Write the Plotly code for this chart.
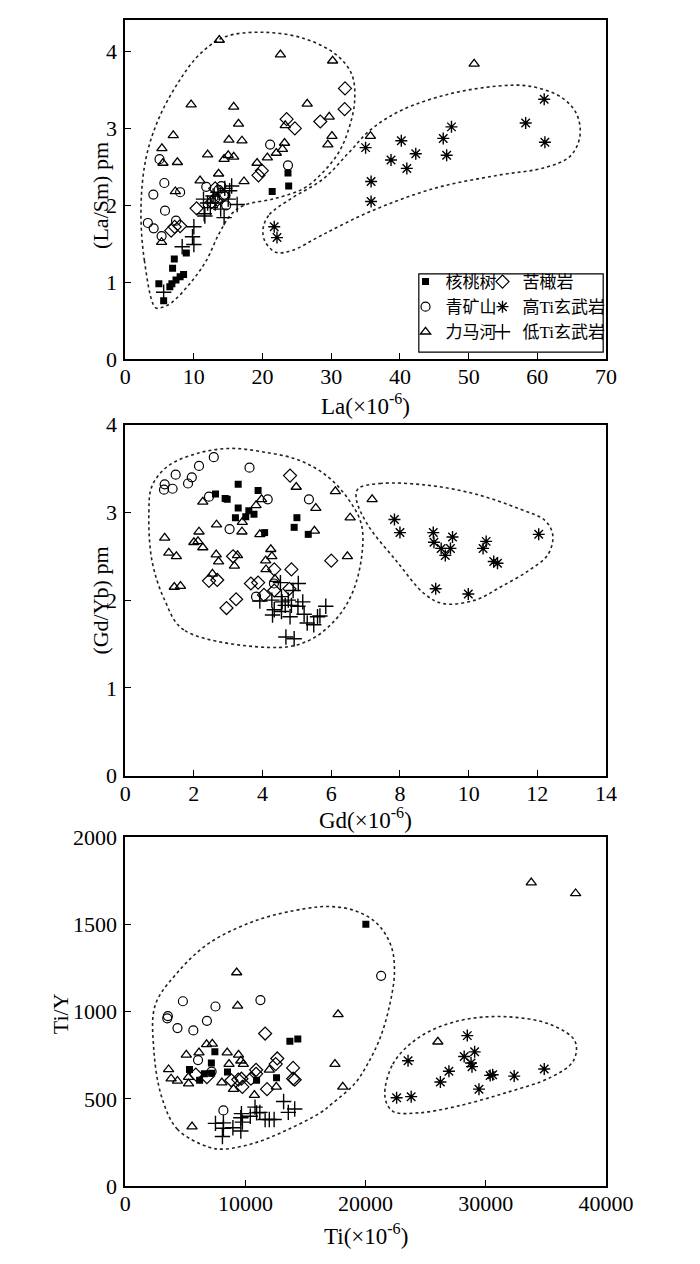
import plotly.graph_objects as go

# ---------------- Panel 1: La vs (La/Sm)pm ----------------
p1_hts_x = [23.7, 23.8, 21.4, 8.9, 7.15, 6.9, 4.9, 5.6, 6.5, 6.8, 7.4, 8.0, 8.5]
p1_hts_y = [2.42, 2.25, 2.18, 1.38, 1.30, 1.18, 0.98, 0.76, 0.94, 0.98, 1.03, 1.07, 1.10]
p1_qks_x = [5.0, 5.7, 4.1, 8.0, 5.8, 3.3, 4.15, 7.4, 5.3, 21.1, 23.7, 11.8, 14.0, 13.1, 14.7, 13.6]
p1_qks_y = [2.60, 2.29, 2.14, 2.17, 1.93, 1.77, 1.70, 1.80, 1.60, 2.79, 2.52, 2.24, 2.25, 2.09, 2.00, 2.20]
p1_lmh_x = [13.7, 22.6, 30.2, 9.6, 15.8, 16.5, 26.5, 29.7, 7.0, 15.1, 17.0, 30.1, 29.5, 5.35, 12.0, 15.0,
            14.4, 15.8, 5.5, 7.6, 23.3, 23.2, 20.7, 22.0, 22.9, 19.2, 13.6, 10.9, 17.3, 7.3, 5.3, 35.7, 50.8]
p1_lmh_y = [4.15, 3.96, 3.88, 3.31, 3.28, 3.06, 3.32, 3.15, 2.91, 2.85, 2.84, 2.90, 2.79, 2.74, 2.66, 2.65,
            2.60, 2.63, 2.55, 2.56, 3.04, 2.81, 2.62, 2.68, 2.73, 2.55, 2.41, 2.32, 2.31, 2.18, 1.52, 2.90, 3.84]
p1_kgy_x = [32.0, 31.95, 28.4, 23.5, 24.7, 19.9, 19.4, 10.4, 6.7, 7.2, 8.0, 13.4, 14.3, 13.1, 12.6]
p1_kgy_y = [3.52, 3.25, 3.09, 3.12, 3.00, 2.45, 2.39, 1.96, 1.67, 1.72, 1.73, 2.07, 2.13, 2.22, 2.04]
p1_hti_x = [21.7, 22.1, 35.0, 35.8, 35.8, 40.2, 38.7, 41.0, 42.3, 46.3, 47.5, 46.8, 58.3, 61.0, 61.1]
p1_hti_y = [1.72, 1.58, 2.75, 2.31, 2.05, 2.84, 2.59, 2.48, 2.67, 2.87, 3.02, 2.65, 3.07, 3.38, 2.82]
p1_lti_x = [10.0, 9.8, 10.0, 8.3, 5.6, 11.5, 11.4, 12.0, 13.1, 15.0, 15.5, 15.2, 16.3, 14.4, 13.5, 12.8,
            14.5, 13.9, 11.6, 12.4]
p1_lti_y = [1.72, 1.59, 1.49, 1.46, 0.87, 1.89, 2.08, 2.03, 2.03, 2.08, 2.25, 2.19, 2.01, 1.84, 2.17, 2.12,
            2.22, 1.95, 1.86, 1.97]
p1_env1_x = [4.4, 2.8, 2.3, 3.0, 4.8, 7.6, 10.8, 14.5, 20.1, 26.0, 30.7, 33.0, 33.4, 32.5, 31.1, 28.8,
             26.0, 21.9, 17.3, 15.4, 13.6, 11.8, 9.4, 6.7, 5.3, 4.4]
p1_env1_y = [0.67, 1.28, 1.96, 2.60, 3.11, 3.58, 3.96, 4.19, 4.25, 4.17, 3.96, 3.70, 3.35, 2.98, 2.69, 2.43,
             2.22, 2.09, 2.00, 1.88, 1.62, 1.28, 0.98, 0.73, 0.67, 0.67]
p1_env2_x = [20.1, 21.0, 24.2, 28.8, 32.5, 35.7, 40.3, 47.3, 54.2, 58.8, 63.4, 65.7, 66.2, 64.8, 61.1,
             54.2, 45.0, 35.7, 28.8, 24.2, 21.9, 20.3, 20.1]
p1_env2_y = [1.71, 1.88, 2.09, 2.34, 2.68, 2.98, 3.24, 3.45, 3.55, 3.55, 3.41, 3.19, 2.90, 2.64, 2.49,
             2.39, 2.22, 1.92, 1.62, 1.41, 1.39, 1.54, 1.71]

# ---------------- Panel 2: Gd vs (Gd/Yb)pm ----------------
p2_hts_x = [3.29, 2.63, 2.91, 2.97, 3.87, 3.29, 3.60, 3.51, 3.75, 3.21, 4.06, 4.92, 5.0, 5.33]
p2_hts_y = [3.32, 3.21, 3.16, 3.15, 3.25, 3.05, 3.02, 2.95, 2.98, 2.94, 2.77, 2.83, 2.94, 2.75]
p2_qks_x = [2.58, 2.15, 1.47, 1.94, 1.83, 1.15, 1.13, 1.38, 3.62, 2.44, 5.35, 4.15, 3.04, 4.33, 3.81]
p2_qks_y = [3.63, 3.53, 3.43, 3.40, 3.33, 3.32, 3.26, 3.27, 3.51, 3.18, 3.15, 3.15, 2.81, 2.19, 2.04]
p2_lmh_x = [4.98, 6.12, 6.55, 5.55, 5.51, 6.47, 7.19, 2.26, 3.97, 3.81, 3.41, 2.66, 3.40, 3.92, 2.15, 1.15,
            2.0, 2.12, 2.26, 1.27, 1.49, 2.65, 2.72, 3.27, 3.18, 2.54, 1.43, 1.61, 4.24, 4.27, 4.09, 4.10, 4.36]
p2_lmh_y = [3.29, 3.24, 2.94, 3.05, 2.79, 2.50, 3.15, 3.12, 3.15, 3.08, 2.89, 2.86, 2.78, 2.75, 2.78, 2.71,
            2.66, 2.67, 2.60, 2.54, 2.50, 2.52, 2.44, 2.51, 2.39, 2.30, 2.15, 2.16, 2.58, 2.50, 2.45, 2.35, 2.24]
p2_kgy_x = [4.80, 6.0, 3.14, 2.44, 2.68, 4.34, 4.84, 3.66, 3.87, 4.34, 3.23, 2.95, 4.04, 4.78]
p2_kgy_y = [3.42, 2.45, 2.50, 2.22, 2.23, 2.35, 2.35, 2.19, 2.20, 2.11, 2.01, 1.91, 2.06, 2.13]
p2_hti_x = [7.84, 8.0, 8.97, 8.99, 9.53, 9.20, 9.47, 9.32, 10.51, 10.42, 10.73, 10.84, 12.04, 9.04, 9.99]
p2_hti_y = [2.92, 2.77, 2.77, 2.66, 2.72, 2.59, 2.59, 2.51, 2.67, 2.59, 2.44, 2.42, 2.75, 2.13, 2.07]
p2_lti_x = [4.52, 5.04, 4.89, 4.55, 4.27, 3.92, 4.57, 4.75, 5.17, 4.66, 4.84, 5.03, 4.34, 4.55, 4.29, 4.80,
            5.21, 5.84, 5.67, 5.60, 5.30, 5.49, 4.68, 4.92]
p2_lti_y = [2.20, 2.19, 2.11, 2.04, 2.00, 1.99, 1.98, 2.00, 1.98, 1.94, 1.94, 1.93, 1.89, 1.87, 1.83, 1.81,
            1.84, 1.93, 1.82, 1.81, 1.74, 1.72, 1.58, 1.56]
p2_env1_x = [4.47, 1.71, 1.15, 0.78, 0.69, 0.78, 1.25, 2.17, 3.09, 4.01, 5.03, 5.86, 6.50, 6.88, 6.88, 6.6,
             6.13, 5.40, 4.47]
p2_env1_y = [1.46, 1.66, 2.00, 2.45, 3.00, 3.30, 3.53, 3.68, 3.73, 3.69, 3.60, 3.42, 3.15, 2.86, 2.48, 2.07,
             1.78, 1.55, 1.46]
p2_env2_x = [6.78, 7.42, 8.81, 10.19, 11.48, 12.22, 12.45, 12.31, 11.76, 10.93, 10.19, 9.27, 8.72, 7.89,
             7.06, 6.73, 6.78]
p2_env2_y = [3.27, 3.33, 3.31, 3.21, 3.04, 2.91, 2.74, 2.52, 2.34, 2.15, 2.00, 1.96, 2.07, 2.45,
             2.86, 3.15, 3.27]

# ---------------- Panel 3: Ti vs Ti/Y ----------------
p3_hts_x = [13700, 14360, 7460, 7170, 5350, 6590, 6190, 7190, 8510, 10930, 12590, 20020]
p3_hts_y = [831, 844, 771, 706, 669, 644, 607, 648, 654, 607, 622, 1502]
p3_qks_x = [4800, 7510, 11250, 3500, 3550, 4350, 5670, 6800, 6060, 7190, 8170, 21290]
p3_qks_y = [1060, 1030, 1067, 962, 975, 906, 893, 948, 723, 657, 434, 1206]
p3_lmh_x = [9275, 9355, 17710, 17450, 18100, 6770, 7250, 5085, 6140, 8485, 9430, 9620, 9830, 8640, 3610,
            3820, 4350, 5270, 5270, 8040, 9010, 10750, 11990, 12570, 5560, 33780, 37470, 26010]
p3_lmh_y = [1225, 1034, 985, 700, 569, 813, 816, 753, 766, 766, 753, 719, 700, 700, 669,
            616, 603, 625, 588, 594, 556, 522, 667, 569, 341, 1740, 1678, 828]
p3_kgy_x = [11640, 12650, 12520, 13970, 13970, 14100, 10890, 10890, 10460, 9670, 9410, 9750, 11800,
            5875, 6800, 8830]
p3_kgy_y = [875, 732, 700, 678, 616, 610, 667, 644, 616, 616, 611, 569, 556, 640, 625, 607]
p3_hti_x = [28460, 28200, 29070, 28770, 28850, 26930, 26220, 23530, 22580, 23790, 29430, 30360, 30570,
            32360, 34860]
p3_hti_y = [863, 743, 770, 706, 685, 659, 597, 719, 507, 513, 556, 635, 639, 631, 672]
p3_lti_x = [13180, 14100, 13570, 10800, 10930, 11200, 9670, 9620, 9750, 9620, 11640, 11990, 12390, 7510,
            8170, 8170, 8960, 8090, 10410]
p3_lti_y = [485, 442, 423, 453, 420, 423, 416, 392, 367, 316, 382, 382, 382, 360, 363, 332, 335, 285, 401]
p3_env1_x = [6980, 4350, 3030, 2370, 2500, 4350, 6980, 10930, 14890, 17000, 19100, 20950, 22130, 22400,
             22000, 21210, 20160, 19100, 17260, 16210, 13570, 10930, 8300, 6980]
p3_env1_y = [223, 326, 513, 794, 1038, 1225, 1393, 1524, 1590, 1603, 1580, 1506, 1375, 1225,
             1038, 850, 700, 588, 476, 420, 326, 251, 213, 223]
p3_env2_x = [21610, 22270, 24370, 27530, 31490, 35440, 37420, 37290, 35440, 31490, 27530, 24370, 22270, 21610]
p3_env2_y = [513, 700, 850, 944, 972, 925, 831, 719, 625, 532, 457, 420, 429, 513]

# tick / label texts
series_names = ["核桃树", "青矿山", "力马河", "苦橄岩", "高Ti玄武岩", "低Ti玄武岩"]
x_titles = ["La(×10<sup>-6</sup>)", "Gd(×10<sup>-6</sup>)", "Ti(×10<sup>-6</sup>)"]
y_titles = ["(La/Sm) pm", "(Gd/Yb) pm", "Ti/Y"]

FONT = "Liberation Serif, Times New Roman, Noto Sans CJK SC, serif"

styles = [
    dict(symbol="square", size=7, color="black", line=dict(width=0, color="black")),
    dict(symbol="circle-open", size=9, color="black", line=dict(width=1.2, color="black")),
    dict(symbol="triangle-up-open", size=9, color="black", line=dict(width=1.3, color="black")),
    dict(symbol="diamond-open", size=10, color="black", line=dict(width=1.2, color="black")),
    dict(symbol="asterisk-open", size=10, color="black", line=dict(width=1.4, color="black")),
    dict(symbol="cross-thin-open", size=11, color="black", line=dict(width=1.4, color="black")),
]
legend_ids = ["legend", "legend", "legend", "legend2", "legend2", "legend2"]

panels = [
    (["x", "y"], [(p1_hts_x, p1_hts_y), (p1_qks_x, p1_qks_y), (p1_lmh_x, p1_lmh_y),
                  (p1_kgy_x, p1_kgy_y), (p1_hti_x, p1_hti_y), (p1_lti_x, p1_lti_y)],
     [(p1_env1_x, p1_env1_y), (p1_env2_x, p1_env2_y)]),
    (["x2", "y2"], [(p2_hts_x, p2_hts_y), (p2_qks_x, p2_qks_y), (p2_lmh_x, p2_lmh_y),
                    (p2_kgy_x, p2_kgy_y), (p2_hti_x, p2_hti_y), (p2_lti_x, p2_lti_y)],
     [(p2_env1_x, p2_env1_y), (p2_env2_x, p2_env2_y)]),
    (["x3", "y3"], [(p3_hts_x, p3_hts_y), (p3_qks_x, p3_qks_y), (p3_lmh_x, p3_lmh_y),
                    (p3_kgy_x, p3_kgy_y), (p3_hti_x, p3_hti_y), (p3_lti_x, p3_lti_y)],
     [(p3_env1_x, p3_env1_y), (p3_env2_x, p3_env2_y)]),
]

fig = go.Figure()
for pi, (ax, series, envs) in enumerate(panels):
    for ex, ey in envs:
        fig.add_trace(go.Scatter(x=ex, y=ey, mode="lines", xaxis=ax[0], yaxis=ax[1],
                                 line=dict(color="#222", width=1.6, dash="dot", shape="spline", smoothing=1.0),
                                 showlegend=False, hoverinfo="skip"))
    for si, (sx, sy) in enumerate(series):
        fig.add_trace(go.Scatter(x=sx, y=sy, mode="markers", xaxis=ax[0], yaxis=ax[1],
                                 name=series_names[si], marker=styles[si],
                                 legend=legend_ids[si], showlegend=(pi == 0)))

# The page body keeps the browser's 8px margin: the figure is sized so the page is exactly 700x1264.
PAGE_W, PAGE_H, BODY_M = 700, 1264, 8
W, H = PAGE_W - 2 * BODY_M, PAGE_H - 2 * BODY_M


def fx(px):
    return (px - BODY_M) / W


def fy(py):
    return 1 - (py - BODY_M) / H


xdom = [fx(125), fx(631)]
ydoms = [[fy(354), 1.0], [fy(779), fy(421)], [fy(1198), fy(842)]]
xranges = [[0, 70], [0, 14], [0, 40000]]
yranges = [[0, 4.41], [0, 4], [0, 2000]]
xdticks = [10, 2, 10000]
ydticks = [1, 1, 500]

axis_common = dict(showgrid=False, zeroline=False, showline=True, linecolor="black", linewidth=1.5,
                   mirror=True, ticks="inside", ticklen=6, tickwidth=1.3, tickcolor="black",
                   tickformat="d", tickfont=dict(family=FONT, size=22, color="black"))
layout = dict(width=W, height=H, margin=dict(l=0, r=0, t=0, b=0),
              paper_bgcolor="white", plot_bgcolor="white", font=dict(family=FONT, color="black"))
for i in range(3):
    sx = "" if i == 0 else str(i + 1)
    layout["xaxis" + sx] = dict(axis_common, domain=xdom, range=xranges[i], dtick=xdticks[i], tick0=0,
                                anchor="y" + sx, ticklabelstandoff=-3)
    layout["yaxis" + sx] = dict(axis_common, domain=ydoms[i], range=yranges[i], dtick=ydticks[i], tick0=0,
                                anchor="x" + sx, ticklabelstandoff=2)

fig.update_layout(**layout)

leg_common = dict(font=dict(family=FONT, size=17, color="black"), bgcolor="rgba(0,0,0,0)",
                  borderwidth=0, orientation="v", xanchor="left", yanchor="top",
                  tracegroupgap=0, itemwidth=30)
fig.update_layout(legend=dict(leg_common, x=fx(420), y=fy(257)),
                  legend2=dict(leg_common, x=fx(501), y=fy(257)))

fig.add_shape(type="rect", xref="paper", yref="paper", x0=fx(434), x1=fx(628),
              y0=fy(347), y1=fy(267), line=dict(color="black", width=1.2),
              fillcolor="white", layer="above")

annots = []
title_y_px = [400, 823, 1247]
ytitle_pos = [(99, 187), (99, 600), (57, 1022)]
for i in range(3):
    annots.append(dict(text=x_titles[i], xref="paper", yref="paper", x=fx(378), y=fy(title_y_px[i]),
                       showarrow=False, xanchor="center", yanchor="middle",
                       font=dict(family=FONT, size=23, color="black")))
    annots.append(dict(text=y_titles[i], xref="paper", yref="paper", x=fx(ytitle_pos[i][0]),
                       y=fy(ytitle_pos[i][1]), showarrow=False, textangle=-90,
                       xanchor="center", yanchor="middle",
                       font=dict(family=FONT, size=22, color="black")))
fig.update_layout(annotations=annots)

fig.write_html("out.html", config={"displayModeBar": False})
